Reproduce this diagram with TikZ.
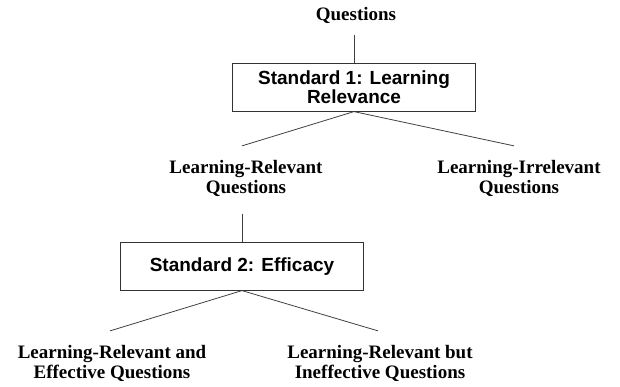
\documentclass[tikz,border=0pt]{standalone}
\usepackage{fontspec}
\setmainfont{Liberation Serif}
\setsansfont{Liberation Sans}
\usepackage{tikz}
\usetikzlibrary{positioning}
\tikzstyle{block} = [rectangle, minimum width=243pt, minimum height=48pt, text centered, align=center, draw=black!80, line width=0.8pt, font=\fontsize{19}{19}\selectfont\sffamily\bfseries]
\tikzstyle{category} = [align=center, inner sep=3pt, font=\fontsize{19}{20}\selectfont\bfseries]
\tikzstyle{link} = [draw=black!75, line width=0.8pt]

\begin{document}
\begin{tikzpicture}[x=1pt, y=-1pt]
\useasboundingbox (0,0) rectangle (620,387);
\node (questions) [category] at (356,15.2) {Questions};
\node (std1) [block, below of=questions, node distance=72pt, xshift=-2pt] {Standard 1: Learning\\Relevance};
\node (relevant) [category, below of=std1, node distance=91pt, xshift=-108pt] {Learning-Relevant\\Questions};
\node (irrelevant) [category, right of=relevant, node distance=273pt] {Learning-Irrelevant\\Questions};
\node (std2) [block, below of=relevant, node distance=88pt, xshift=-4pt] {Standard 2: Efficacy};
\node (effective) [category, below of=std2, node distance=97pt, xshift=-130pt] {Learning-Relevant and\\Effective Questions};
\node (ineffective) [category, right of=effective, node distance=268pt] {Learning-Relevant but\\Ineffective Questions};
\draw [link, shorten <=8pt] (questions.south -| std1.north) -- (std1.north);
\draw [link] (std1.south) -- ([xshift=-4pt, yshift=11pt]relevant.north);
\draw [link] (std1.south) -- ([xshift=-5pt, yshift=11pt]irrelevant.north);
\draw [link, shorten <=14pt] (relevant.south -| std2.north) -- (std2.north);
\draw [link] (std2.south) -- ([xshift=-2pt, yshift=11pt]effective.north);
\draw [link] (std2.south) -- ([xshift=-2pt, yshift=11pt]ineffective.north);
\end{tikzpicture}
\end{document}
